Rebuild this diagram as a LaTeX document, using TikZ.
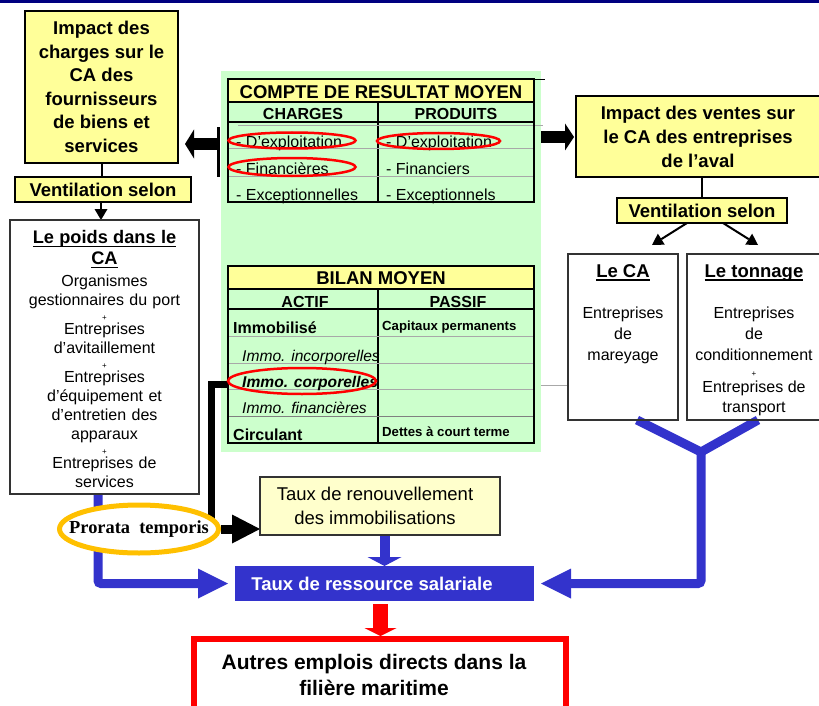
\documentclass[tikz,border=0pt]{standalone}
\usepackage{fontspec}
\setmainfont{Liberation Sans}
\newfontfamily\prorataFont{Liberation Serif}
\usetikzlibrary{arrows.meta,shapes.geometric}
\pgfdeclarelayer{back}
\pgfdeclarelayer{conn}
\pgfsetlayers{back,conn,main}
\definecolor{navyTop}{HTML}{000080}
\definecolor{yelFill}{HTML}{FFFF99}
\definecolor{paleYel}{HTML}{FFFFCC}
\definecolor{greenBg}{HTML}{CCFFCC}
\definecolor{blueF}{HTML}{3333CC}
\definecolor{orangeR}{HTML}{FFC000}
\definecolor{gridGrey}{HTML}{A8A8A8}
\definecolor{boxGrey}{HTML}{333333}
\newcommand{\myUline}[1]{\leavevmode\setbox0=\hbox{#1}\rlap{\rule[-3.2pt]{\wd0}{1.5pt}}\box0}
\begin{document}
\begin{tikzpicture}[x=1pt,y=-1pt,
  rbox/.style={draw=black, line width=1.3pt, inner sep=0pt, outer sep=0pt, anchor=north west},
  ybox/.style={rbox, fill=yelFill},
  gbox/.style={rbox, draw=boxGrey, line width=1.2pt},
  hdBig/.style={font=\fontsize{18.5}{23.5}\selectfont\bfseries},
  cell/.style={anchor=base west, inner sep=0pt, font=\fontsize{16}{19}\selectfont},
  cellB/.style={cell, font=\fontsize{16}{19}\selectfont\bfseries},
  cellI/.style={cell, font=\fontsize{15.6}{19}\selectfont\itshape},
  cellBI/.style={cell, font=\fontsize{15.6}{19}\selectfont\bfseries\itshape},
  cellS/.style={cell, font=\fontsize{13.2}{15}\selectfont\bfseries},
  colHead/.style={anchor=base, inner sep=0pt, font=\fontsize{16}{19}\selectfont\bfseries},
  tabTitle/.style={anchor=base, inner sep=0pt, font=\fontsize{18.5}{20}\selectfont\bfseries},
  redEll/.style={ellipse, draw=red, line width=2.5pt, inner sep=0pt},
  thinConn/.style={line width=2pt, draw=black},
  thinArrow/.style={thinConn, -{Triangle[width=13pt,length=11pt,line width=0pt]}},
  blueLine/.style={draw=blueF, line width=9pt},
  blueBig/.style={blueLine, rounded corners=3pt, -{Triangle[width=30pt,length=30pt,line width=0pt]}},
  gridLine/.style={draw=gridGrey, line width=0.9pt},
  tabLine/.style={draw=black, line width=1.1pt}
]
\useasboundingbox (0,0) rectangle (819,706);
\fill[navyTop] (0,0) rectangle (819,3.5);

% ---------- green background ----------
\begin{pgfonlayer}{back}
\node[fill=greenBg, inner sep=0pt, outer sep=0pt, minimum width=320pt, minimum height=381pt, anchor=north west] (greenBg) at (221,71) {};
\end{pgfonlayer}

% ---------- left column ----------
\node[ybox, minimum width=153pt, minimum height=152pt, align=center, hdBig] (chImpact) at (25,11)
  {Impact des\\charges sur le\\CA des\\fournisseurs\\de biens et\\services};
\node[ybox, minimum width=176pt, minimum height=25pt, hdBig] (ventL) at (15,177) {Ventilation selon};
\node[rbox, draw=boxGrey, minimum width=189pt, minimum height=274pt] (poids) at (10,220) {};
\node[anchor=north, inner sep=0pt, text width=185pt, align=center, font=\fontsize{16}{19}\selectfont] (poidsTxt) at ([yshift=-10.5pt]poids.north)
  {{\fontsize{18.2}{19}\selectfont\bfseries \myUline{Le poids dans le}}\\[2pt]
   {\fontsize{18.2}{19}\selectfont\bfseries \myUline{CA}}\\[3pt]
   Organismes\\
   gestionnaires du port\\[-4.5pt]
   {\fontsize{8}{8}\selectfont +}\\[-4.5pt]
   Entreprises\\
   d’avitaillement\\[-4.5pt]
   {\fontsize{8}{8}\selectfont +}\\[-4.5pt]
   Entreprises\\
   d’équipement et\\
   d’entretien des\\
   apparaux\\[-4.5pt]
   {\fontsize{8}{8}\selectfont +}\\[-4.5pt]
   Entreprises de\\
   services};

% ---------- compte de resultat ----------
\fill[yelFill] (228,79) rectangle (534,102);
\draw[tabLine] (228,102) -- (534,102);
\draw[tabLine] (228,122) -- (534,122);
\draw[tabLine] (378,102) -- (378,202);
\draw[gridLine] (238,125) -- (543,125);
\draw[gridLine] (228,148) -- (534,148);
\draw[gridLine] (228,176) -- (534,176);
\draw[line width=0.8pt] (534,79) -- (545,79);
\node[draw, line width=1.3pt, inner sep=0pt, outer sep=0pt, minimum width=306pt, minimum height=123pt, anchor=north west] (compte) at (228,79) {};
\node[tabTitle] (compteTitle) at (381,99) {COMPTE DE RESULTAT MOYEN};
\node[colHead] (chargesHd) at (303,120) {CHARGES};
\node[colHead] (produitsHd) at (456,120) {PRODUITS};
\node[cell] (chExp) at (236,147) {- D'exploitation};
\node[cell] (prExp) at (386,147) {- D'exploitation};
\node[cell] (chFin) at (236,174) {- Financières};
\node[cell] (prFin) at (386,174) {- Financiers};
\node[cell] (chExc) at (236,200) {- Exceptionnelles};
\node[cell] (prExc) at (386,200) {- Exceptionnels};
\node[redEll, minimum width=127pt, minimum height=16pt] (chExpEll) at (292,140.5) {};
\node[redEll, minimum width=127pt, minimum height=18pt] (chFinEll) at (292,167) {};
\node[redEll, minimum width=123pt, minimum height=16pt] (prExpEll) at (438.5,141) {};

% ---------- bilan ----------
\fill[yelFill] (228,266) rectangle (534,289);
\draw[tabLine] (228,289) -- (534,289);
\draw[tabLine] (228,309) -- (534,309);
\draw[tabLine] (378,289) -- (378,443);
\draw[gridLine] (228,336) -- (534,336);
\draw[gridLine] (228,363) -- (534,363);
\draw[gridLine] (228,389) -- (534,389);
\draw[gridLine, draw=gray] (228,416) -- (534,416);
\node[draw, line width=1.3pt, inner sep=0pt, outer sep=0pt, minimum width=306pt, minimum height=177pt, anchor=north west] (bilan) at (228,266) {};
\node[tabTitle] (bilanTitle) at (381,284) {BILAN MOYEN};
\node[colHead] (actifHd) at (305,307) {ACTIF};
\node[colHead] (passifHd) at (458,307) {PASSIF};
\node[cellB] (immob) at (233,333) {Immobilisé};
\node[cellS] (capit) at (382,330) {Capitaux permanents};
\node[cellI] (incorp) at (242,361) {Immo. incorporelles};
\node[cellBI] (corp) at (242,387) {Immo. corporelles};
\node[cellI] (finan) at (242,413) {Immo. financières};
\node[cellB] (circ) at (233,440) {Circulant};
\node[cellS] (dettes) at (382,436) {Dettes à court terme};
\node[redEll, minimum width=148pt, minimum height=26pt] (corpEll) at (302,381) {};

% ---------- right column ----------
\node[ybox, minimum width=244pt, minimum height=81pt, align=center, font=\fontsize{18.5}{24}\selectfont\bfseries] (vtImpact) at (576,96)
  {Impact des ventes sur\\le CA des entreprises\\de l’aval};
\node[ybox, minimum width=170pt, minimum height=25pt, hdBig] (ventR) at (617,198) {Ventilation selon};
\node[gbox, minimum width=110pt, minimum height=166pt] (leCA) at (568,254) {};
\node[gbox, minimum width=134pt, minimum height=166pt] (tonnage) at (687,254) {};
\node[tabTitle] (leCATitle) at (623,277.5) {\myUline{Le CA}};
\node[tabTitle] (tonTitle) at (754,277.5) {\myUline{Le tonnage}};
\node[anchor=north, inner sep=0pt, align=center, font=\fontsize{16}{21}\selectfont] (leCABody) at (623,307)
  {Entreprises\\de\\mareyage};
\node[anchor=north, inner sep=0pt, align=center, font=\fontsize{16}{21}\selectfont] (tonBody) at (754,307)
  {Entreprises\\de\\conditionnement\\[-5pt]{\fontsize{8}{8}\selectfont +}\\[-5pt]Entreprises de\\[-1pt]transport};

% ---------- bottom ----------
\node[gbox, fill=paleYel, minimum width=240pt, minimum height=58pt] (renouv) at (260,477) {};
\node[align=center, inner sep=0pt, font=\fontsize{18.5}{24}\selectfont] (renouvTxt) at (375,506)
  {Taux de renouvellement\\des immobilisations};
\node[fill=blueF, inner sep=0pt, outer sep=0pt, minimum width=299pt, minimum height=35pt, anchor=north west] (ressource) at (235,566) {};
\node[inner sep=0pt, text=white, font=\fontsize{18.5}{20}\selectfont\bfseries] (ressTxt) at (372,584) {Taux de ressource salariale};
\node[draw=red, line width=6pt, inner sep=0pt, outer sep=0pt, minimum width=372pt, minimum height=80pt, anchor=north west] (autres) at (194,639) {};
\node[align=center, inner sep=0pt, font=\fontsize{21}{26}\selectfont\bfseries] (autresTxt) at (374,675)
  {Autres emplois directs dans la\\filière maritime};
\node[ellipse, draw=orangeR, line width=5pt, fill=white, minimum width=159pt, minimum height=48pt, inner sep=0pt] (prorata) at (139,529) {};
\node[inner sep=0pt, font=\prorataFont\bfseries\fontsize{18.4}{20}\selectfont] (prorataTxt) at (139,529) {Prorata\ \ temporis};

% ---------- black bar and coordinates ----------
\node[fill=black, inner sep=0pt, minimum width=3pt, minimum height=50pt] (barNode) at (218.5,152) {};
\coordinate (lTip) at (185,144);
\coordinate (rTip) at (574,137);
\coordinate (yJoin) at (701,452);

% ---------- connectors ----------
\begin{pgfonlayer}{conn}
\draw[thinConn] (chImpact.south) -- (chImpact.south |- ventL.north);
\draw[thinArrow] ([xshift=-2pt]ventL.south) -- ([xshift=-2pt]ventL.south |- poids.north);
\draw[thinConn] (ventR.north) -- (ventR.north |- vtImpact.south);
\draw[thinArrow] ([xshift=-15pt]ventR.south) -- ([xshift=29pt,yshift=9pt]leCA.north);
\draw[thinArrow] ([xshift=21pt]ventR.south) -- ([xshift=4pt,yshift=9pt]tonnage.north);
\draw[line width=12pt, -{Triangle[width=29pt,length=9pt,line width=0pt]}] ([yshift=8pt]barNode.center) -- (lTip);
\draw[line width=12pt, -{Triangle[width=27pt,length=9pt,line width=0pt]}] (greenBg.east |- rTip) -- (rTip);
\draw[line width=7pt] ([yshift=-3pt]corpEll.west) -| (prorata.center -| 211,0);
\draw[line width=9pt, -{Triangle[width=29pt,length=28pt,line width=0pt]}] (prorata.east) -- (prorata.east -| renouv.west);
\draw[blueBig] ([xshift=-6.5pt]poids.south) |- ([xshift=-7pt]ressource.west);
\draw[blueLine] ([xshift=14pt]leCA.south) -- (yJoin) -- ([xshift=4pt]tonnage.south);
\draw[blueBig] (yJoin) |- ([xshift=7pt]ressource.east);
\draw[draw=blueF, line width=10pt, -{Triangle[width=34pt,length=9pt,line width=0pt]}] ([xshift=4.5pt]renouv.south) -- (ressource.north);
\draw[draw=red, line width=15.5pt, -{Triangle[width=32pt,length=8pt,line width=0pt]}] ([xshift=-4pt,yshift=-3pt]ressource.south) -- ([xshift=0.5pt,yshift=3pt]autres.north);
\draw[gridLine] (greenBg.east |- 0,385) -- (leCA.west |- 0,385);
\end{pgfonlayer}
\end{tikzpicture}
\end{document}
